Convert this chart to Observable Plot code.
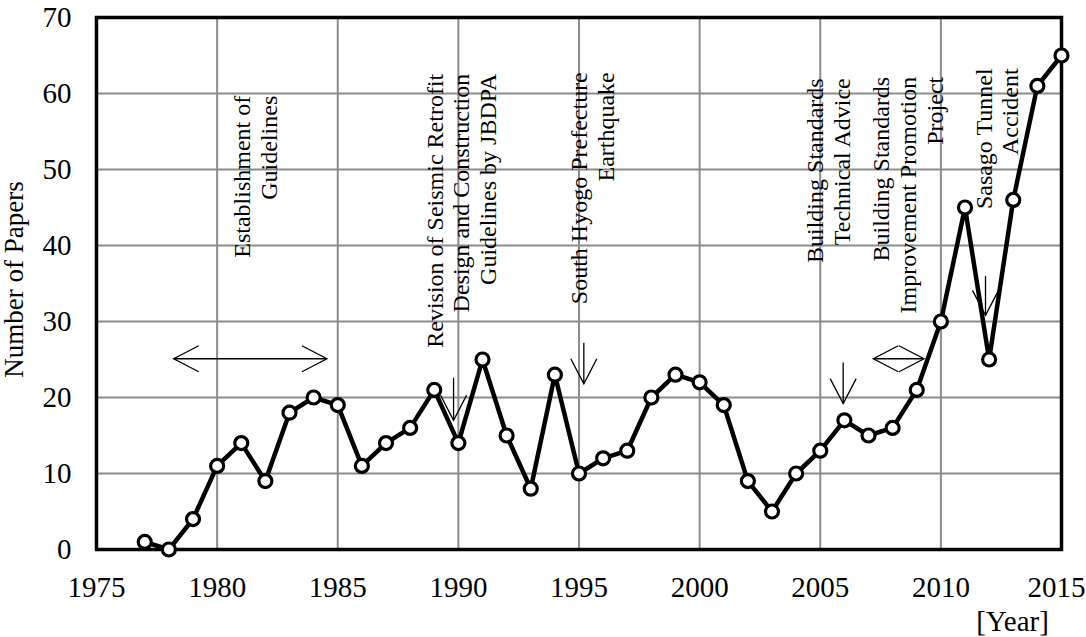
<!DOCTYPE html>
<html><head><meta charset="utf-8">
<script src="https://cdn.jsdelivr.net/npm/d3@7"></script>
<script src="https://cdn.jsdelivr.net/npm/@observablehq/plot@0.6"></script>
<style>body{margin:0;background:#fff} svg{display:block}</style>
</head><body><div id="chart"></div>
<script>
const years = [1977,1978,1979,1980,1981,1982,1983,1984,1985,1986,1987,1988,1989,1990,1991,1992,1993,1994,1995,1996,1997,1998,1999,2000,2001,2002,2003,2004,2005,2006,2007,2008,2009,2010,2011,2012,2013,2014,2015];
const papers = [1,0,4,11,14,9,18,20,19,11,14,16,21,14,25,15,8,23,10,12,13,20,23,22,19,9,5,10,13,17,15,16,21,30,45,25,46,61,65];
const xTicks = [1975,1980,1985,1990,1995,2000,2005,2010,2015];
const yTicks = [0,10,20,30,40,50,60,70];

const eventLabels = [
  "Establishment of\nGuidelines",
  "Revision of Seismic Retrofit\nDesign and Construction\nGuidelines by JBDPA",
  "South Hyogo Prefecture\nEarthquake",
  "Building Standards\nTechnical Advice",
  "Building Standards\nImprovement Promotion\nProject",
  "Sasago Tunnel\nAccident"
];
const eventYears = [1981.55, 1990.1, 1995.55, 2005.3, 2008.6, 2012.3];
const eventTops = [59.7, 62.6, 62.8, 62.0, 62.2, 63.3];

const downArrowYears = [1989.8, 1995.2, 2005.95, 2011.85];
const downArrowFrom = [22.6, 27.2, 24.6, 36.0];
const downArrowTo = [17.0, 21.8, 19.2, 30.8];

const spanStart = [1978.2, 2007.2];
const spanEnd = [1984.55, 2009.3];
const spanLevel = [25.1, 25.1];

const series = years.map((year, i) => ({year, count: papers[i]}));
const events = eventLabels.map((label, i) => ({label, x: eventYears[i], y: eventTops[i]}));
const downs = downArrowYears.map((x, i) => ({x, y1: downArrowFrom[i], y2: downArrowTo[i]}));
const spans = spanStart.map((x1, i) => ({x1, x2: spanEnd[i], y: spanLevel[i]}));
const heads = [
  ...downs.map(d => ({x: d.x, y: d.y2, angle: 90})),
  ...spans.flatMap(d => [{x: d.x1, y: d.y, angle: 180}, {x: d.x2, y: d.y, angle: 0}])
];
const vHead = {draw(ctx) { ctx.moveTo(-25, -13); ctx.lineTo(0, 0); ctx.lineTo(-25, 13); }};

const lastTick = xTicks[xTicks.length - 1];
const innerTicks = xTicks.slice(0, -1);

const serif = "'Liberation Serif', 'Times New Roman', serif";
const chart = Plot.plot({
  width: 1086, height: 637,
  marginLeft: 96, marginRight: 25, marginTop: 17, marginBottom: 88,
  style: {fontFamily: serif, fontSize: "28px", color: "#000", background: "#fff"},
  x: {domain: [1975, 2015]},
  y: {domain: [0, 70]},
  marks: [
    Plot.gridX(xTicks, {stroke: "#8c8c8c", strokeOpacity: 1, strokeWidth: 2}),
    Plot.gridY(yTicks, {stroke: "#8c8c8c", strokeOpacity: 1, strokeWidth: 2}),
    Plot.frame({stroke: "#000", strokeWidth: 3.5}),
    Plot.axisX(innerTicks, {tickSize: 0, tickPadding: 27, tickFormat: d => String(d), label: null, fontSize: 29, fontFamily: serif}),
    Plot.axisX([lastTick], {tickSize: 0, tickPadding: 27, tickFormat: d => String(d), label: null, fontSize: 29, fontFamily: serif, dx: -5}),
    Plot.axisY(yTicks, {tickSize: 0, tickPadding: 25, label: null, fontSize: 29, fontFamily: serif}),
    Plot.text(events, {x: "x", y: "y", text: "label", rotate: -90, textAnchor: "end", lineAnchor: "middle", lineHeight: 1.12, fontSize: 24, fontFamily: serif, fill: "#000"}),
    Plot.link(downs, {x1: "x", x2: "x", y1: "y1", y2: "y2", stroke: "#000", strokeWidth: 1.3}),
    Plot.link(spans, {x1: "x1", x2: "x2", y1: "y", y2: "y", stroke: "#000", strokeWidth: 1.3}),
    Plot.dot(heads, {x: "x", y: "y", rotate: "angle", symbol: vHead, fill: "none", stroke: "#000", strokeWidth: 1.3}),
    Plot.line(series, {x: "year", y: "count", stroke: "#000", strokeWidth: 4.5}),
    Plot.dot(series, {x: "year", y: "count", r: 6.5, fill: "#fff", stroke: "#000", strokeWidth: 3.2}),
    Plot.text(["Number of Papers"], {text: d => d, frameAnchor: "left", textAnchor: "middle", lineAnchor: "middle", rotate: -90, dx: -82, dy: -4, fontSize: 27, fontFamily: serif}),
    Plot.text(["[Year]"], {text: d => d, frameAnchor: "bottom-right", textAnchor: "middle", lineAnchor: "middle", dx: -49, dy: 72, fontSize: 29, fontFamily: serif})
  ]
});
document.getElementById("chart").append(chart);
</script>
</body></html>
